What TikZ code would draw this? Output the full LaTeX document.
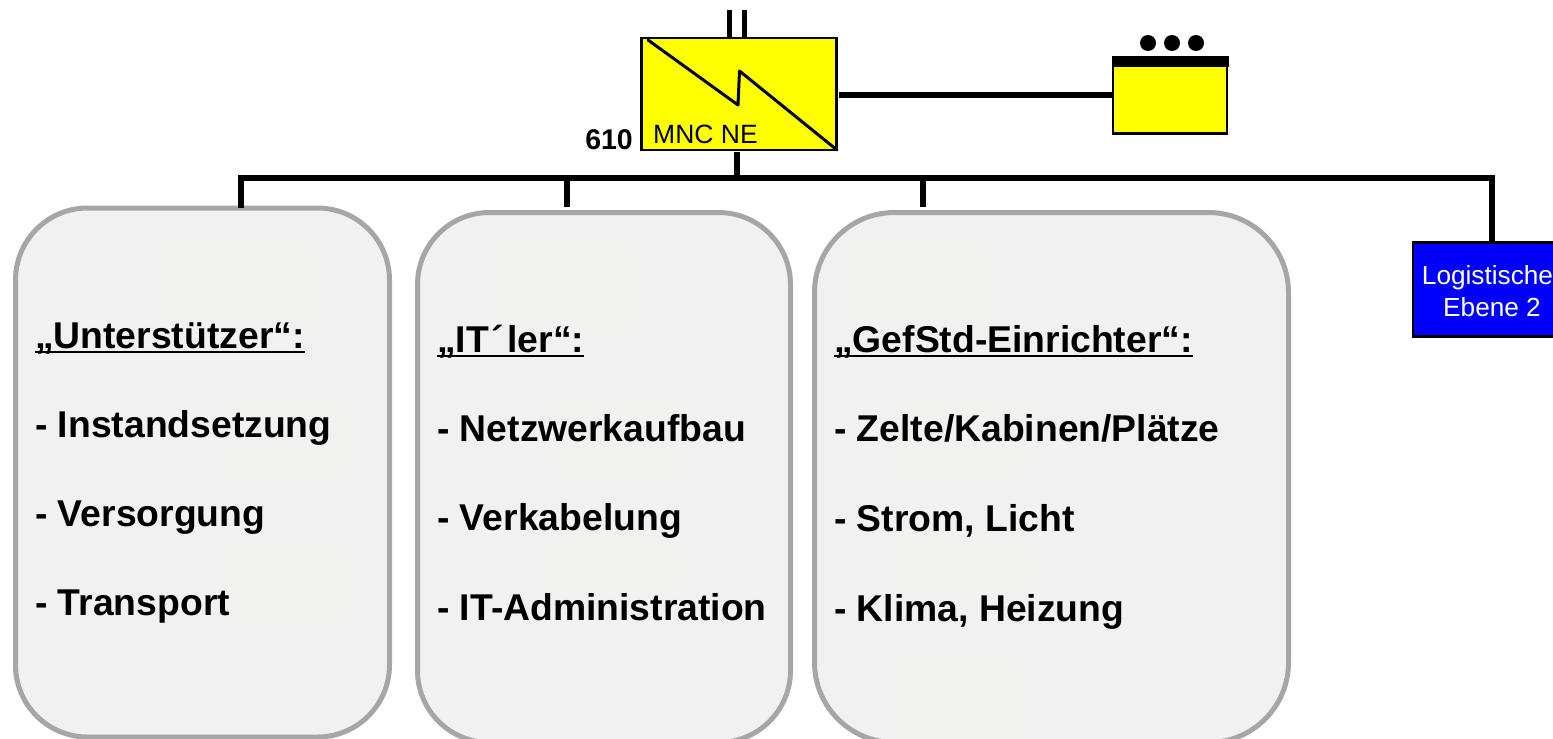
\documentclass[tikz,border=0pt]{standalone}
\usepackage{fontspec}
\setmainfont{Liberation Sans}
\definecolor{panelfill}{HTML}{F1F1F1}
\definecolor{panelline}{HTML}{A6A6A6}
\definecolor{ghostfill}{HTML}{F1F1EF}
\definecolor{unityellow}{HTML}{FFFF00}
\definecolor{unitblue}{HTML}{0000FF}
\newcommand{\headunder}[1]{\setbox0=\hbox{#1}\rlap{\rule[-5pt]{\wd0}{2pt}}\box0}
\tikzset{
  panel/.style={draw=panelline,fill=panelfill,line width=5pt,rounded corners=72pt,inner sep=0pt,outer sep=0pt},
  ghost/.style={fill=ghostfill,draw=none},
  unitbox/.style={draw=black,fill=unityellow,line width=2.5pt,inner sep=0pt,outer sep=0pt},
  bluebox/.style={draw=black,fill=unitblue,line width=2.5pt,inner sep=0pt,outer sep=0pt},
  conn/.style={draw=black,line width=6pt},
  headline/.style={anchor=base west,inner sep=0pt,font=\fontsize{37.3}{37.3}\selectfont\bfseries},
  itemline/.style={anchor=base west,inner sep=0pt,font=\fontsize{37.3}{37.3}\selectfont\bfseries},
  dotmark/.style={circle,fill=black,minimum size=16pt,inner sep=0pt}
}
\begin{document}
\begin{tikzpicture}[x=1pt,y=-1pt]
\useasboundingbox (0,0) rectangle (1553,739);
% panels
\node[panel,minimum width=374pt,minimum height=529pt] (pa) at (202.5,472.5) {};
\node[panel,minimum width=373pt,minimum height=530pt] (pb) at (604,477.5) {};
\node[panel,rounded corners=80pt,minimum width=474pt,minimum height=530pt] (pc) at (1051.5,477.5) {};
% faint traces inside the panels
\fill[ghost] (160,241) rectangle (318,335);
\fill[ghost] (212,402) rectangle (357,487);
\fill[ghost] (212,537) rectangle (357,623);
\fill[ghost] (488,243) rectangle (645,335);
\fill[ghost] (547,392) rectangle (692,478);
\fill[ghost] (547,530) rectangle (692,617);
\fill[ghost] (838,243) rectangle (997,335);
\fill[ghost] (897,392) rectangle (1037,478);
\fill[ghost] (897,530) rectangle (1037,617);
\fill[ghost] (893,655) rectangle (1030,739);
% units
\node[unitbox,minimum width=195pt,minimum height=112pt] (mnc) at (739,94) {};
\node[unitbox,minimum width=114pt,minimum height=76pt] (sub) at (1170,95.5) {};
\fill[black] (1112,56) rectangle (1229,67);
\node[dotmark] (d1) at (1148,43) {};
\node[dotmark] (d2) at (1172,43) {};
\node[dotmark] (d3) at (1196,43) {};
\node[bluebox,minimum width=160pt,minimum height=94pt] (log) at (1493,289.5) {};
% unit symbol
\draw[line width=3pt,line join=round,line cap=round] (648,40) -- (738,105) -- (739.5,71) -- (837,150);
% connectors
\coordinate (busL) at (238,178);
\coordinate (busR) at (1495,178);
\coordinate (tapA) at (241,178);
\coordinate (tapB) at (567,178);
\coordinate (tapC) at (923,178);
\coordinate (tapM) at (737,178);
\coordinate (tapL) at (1492,178);
\coordinate (upA) at (729.5,10);
\coordinate (upB) at (744.5,10);
\draw[conn] (busL) -- (busR);
\draw[conn] (tapA) -- (tapA |- pa.north);
\draw[conn] (tapB) -- (567,207);
\draw[conn] (tapC) -- (923,207);
\draw[conn] (tapM) -- (737,152);
\draw[conn] (tapL) -- (tapL |- log.north);
\draw[conn] (839,95) -- (sub.west |- 839,95);
\draw[line width=5pt] (upA) -- (upA |- mnc.north);
\draw[line width=5pt] (upB) -- (upB |- mnc.north);
% unit labels
\node[anchor=base west,inner sep=0pt,font=\fontsize{26.5}{26.5}\selectfont] (mnct) at (653,143) {MNC NE};
\node[anchor=base east,inner sep=0pt,font=\fontsize{28.5}{28.5}\selectfont\bfseries] (num) at (633,149) {610};
\node[align=center,text=white,inner sep=0pt,font=\fontsize{26.2}{32}\selectfont] (logt) at (1487.5,291) {Logistische\\\hspace*{9pt}Ebene 2};
% panel texts
\node[headline] (a0) at (35,348) {\headunder{„Unterstützer“:}};
\node[itemline] (a1) at (35,437) {- Instandsetzung};
\node[itemline] (a2) at (35,526) {- Versorgung};
\node[itemline] (a3) at (35,615) {- Transport};
\node[headline] (b0) at (437,352) {\headunder{„IT\kern3pt´\kern3pt ler“:}};
\node[itemline] (b1) at (437,441) {- Netzwerkaufbau};
\node[itemline] (b2) at (437,530) {- Verkabelung};
\node[itemline] (b3) at (437,620) {- IT-Administration};
\node[headline] (c0) at (834,352) {\headunder{„GefStd-Einrichter“:}};
\node[itemline] (c1) at (834,441) {- Zelte/Kabinen/Plätze};
\node[itemline] (c2) at (834,531) {- Strom, Licht};
\node[itemline] (c3) at (834,621) {- Klima, Heizung};
\end{tikzpicture}
\end{document}
